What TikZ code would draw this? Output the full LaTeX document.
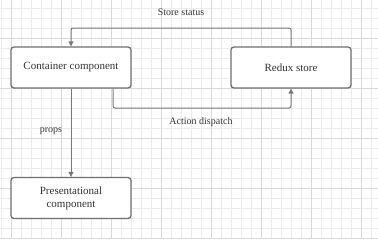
\documentclass[tikz,border=0pt]{standalone}
\usepackage{fontspec}
\setmainfont{Liberation Serif}
\usetikzlibrary{arrows.meta}
\definecolor{gminor}{HTML}{EBEBEB}
\definecolor{gmajor}{HTML}{D9D9D9}
\definecolor{boxc}{HTML}{6E6E6E}
\definecolor{linec}{HTML}{787878}
\definecolor{txt}{HTML}{333333}
\begin{document}
\begin{tikzpicture}[x=1pt,y=-1pt,
  box/.style={draw=boxc,line width=1.3pt,rounded corners=3pt,fill=white,minimum width=120pt,minimum height=41pt,inner sep=0pt,font=\fontsize{11}{13}\selectfont,text=txt,align=center},
  conn/.style={draw=linec,line width=1pt,rounded corners=2pt,-{Triangle[length=5pt,width=5pt]}},
  lbl/.style={font=\fontsize{10}{12}\selectfont,text=txt}]
\useasboundingbox (0,0) rectangle (378,239);
\fill[white] (0,0) rectangle (378,239);
\foreach \i in {0,...,37} {\draw[gminor,line width=0.8pt] (1.7+10*\i,0) -- (1.7+10*\i,239);}
\foreach \j in {0,...,23} {\draw[gminor,line width=0.8pt] (0,8+10*\j) -- (378,8+10*\j);}
\foreach \i in {0,...,7} {\draw[gmajor,line width=0.8pt] (11.7+50*\i,0) -- (11.7+50*\i,239);}
\foreach \j in {0,...,4} {\draw[gmajor,line width=0.8pt] (0,38+50*\j) -- (378,38+50*\j);}
\node[box] (cont) at (71,67.5) {Container component};
\node[box] (redux) at (291,67.5) {Redux store};
\node[box] (pres) at (71,198) {Presentational\\component};
\coordinate (stA) at (291,28);
\coordinate (stB) at (71,28);
\draw[conn] (redux.north) -- (stA) -- (stB) -- (cont.north);
\coordinate (adA) at (113,108);
\coordinate (adB) at (291,108);
\draw[conn] (cont.south -| adA) -- (adA) -- (adB) -- (redux.south);
\draw[conn] (cont.south) -- (pres.north);
\node[lbl] (ss) at (181,12) {Store status};
\node[lbl] (ad) at (201,122) {Action dispatch};
\node[lbl] (pp) at (51,131) {props};
\end{tikzpicture}
\end{document}
